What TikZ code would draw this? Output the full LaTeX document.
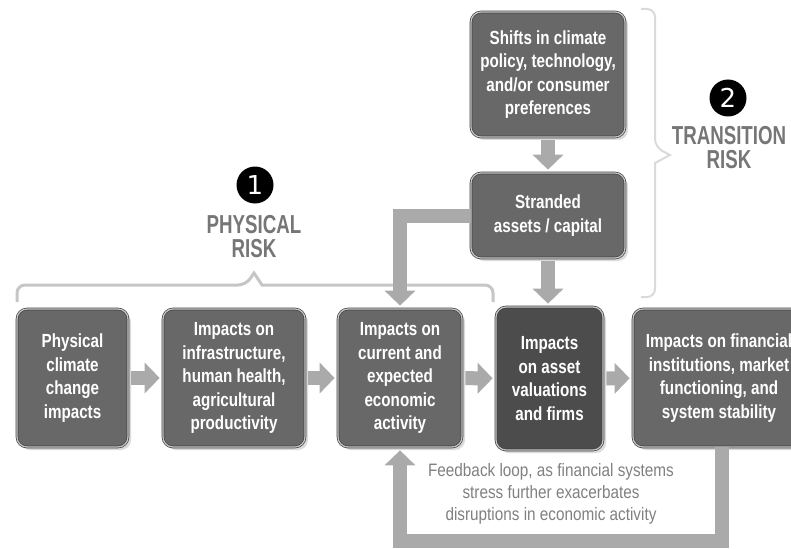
\documentclass[tikz,border=0pt]{standalone}
\usepackage{fontspec}
\setmainfont{Liberation Sans}
\newfontfamily\narrowfont{Liberation Sans}[FakeStretch=0.8]
\newfontfamily\notefont{Liberation Sans}[FakeStretch=0.85]
\newfontfamily\headfont{Liberation Sans}[FakeStretch=0.72]
\newfontfamily\digitfont{DejaVu Sans}
\usetikzlibrary{arrows.meta,shadows}
\definecolor{boxgrey}{RGB}{104,104,104}
\definecolor{darkboxgrey}{RGB}{76,76,76}
\definecolor{arrowgrey}{RGB}{170,170,170}
\definecolor{labelgrey}{RGB}{118,118,118}
\definecolor{notegrey}{RGB}{128,128,128}
\definecolor{bracegrey}{RGB}{198,198,198}
\definecolor{lightbracegrey}{RGB}{218,218,218}
\tikzset{
  riskbox/.style = {
    draw=black!75, double=black!22, double distance=1.2pt, line width=0.7pt,
    fill=boxgrey, rounded corners=10pt, text=white, align=center, inner sep=0pt,
    font=\narrowfont\bfseries\fontsize{19}{23.5}\selectfont,
    drop shadow={shadow xshift=3pt, shadow yshift=-3pt, fill=black!14, opacity=1}
  },
  flowarrow/.style = {
    draw=arrowgrey, line width=14pt, -{Triangle[length=15pt,width=30pt]},
    shorten >=3pt, shorten <=3pt
  },
  risknum/.style = {
    circle, fill=black, text=white, minimum size=37pt, inner sep=0pt,
    font=\digitfont\fontsize{26}{26}\selectfont
  },
  risklabel/.style = {
    text=labelgrey, align=center, font=\headfont\bfseries\fontsize{26}{24}\selectfont
  },
  loopnote/.style = {
    text=notegrey, align=center, font=\notefont\fontsize{18}{22}\selectfont
  }
}

\begin{document}
\begin{tikzpicture}[x=1pt,y=-1pt]
  \clip (0,0) rectangle (791,548);

  % top: transition chain
  \node[riskbox, minimum width=154pt, minimum height=125pt] (shifts) at (548,74.5)
    {Shifts in climate\\policy, technology,\\and/or consumer\\preferences};
  \node[riskbox, minimum width=154pt, minimum height=85pt] (stranded) at (548,215.5)
    {Stranded\\assets / capital};

  % bottom row
  \node[riskbox, minimum width=111pt, minimum height=138pt] (physical) at (72.5,378)
    {Physical\\climate\\change\\impacts};
  \node[riskbox, minimum width=142pt, minimum height=138pt] (infra) at (234,378)
    {Impacts on\\infrastructure,\\human health,\\agricultural\\productivity};
  \node[riskbox, minimum width=124pt, minimum height=138pt] (econ) at (400,378)
    {Impacts on\\current and\\expected\\economic\\activity};
  \node[riskbox, fill=darkboxgrey, minimum width=107pt, minimum height=143pt] (assets) at (549.5,378.5)
    {Impacts\\on asset\\valuations\\and firms};
  \node[riskbox, minimum width=172pt, minimum height=138pt] (finance) at (719,378)
    {Impacts on financial\\institutions, market\\functioning, and\\system stability};

  % braces
  \draw[bracegrey, line width=3pt, rounded corners=8pt]
    (17,302) -- (17,285) -- (246,285) [sharp corners] -- (254,273) -- (262,285)
    [rounded corners=8pt] -- (493,285) -- (493,302);
  \draw[lightbracegrey, line width=2pt, rounded corners=8pt]
    (641,9) -- (655,9) -- (655,147) [sharp corners] -- (670,155) -- (655,163)
    [rounded corners=8pt] -- (655,297) -- (641,297);

  % risk labels
  \node[risknum] (physnum) at (255,185) {1};
  \node[risklabel] (physlabel) at (254,237) {PHYSICAL\\RISK};
  \node[risknum] (transnum) at (728,98) {2};
  \node[risklabel] (translabel) at (729,148) {TRANSITION\\RISK};

  % arrows
  \draw[flowarrow] (physical) -- (infra);
  \draw[flowarrow] (infra) -- (econ);
  \draw[flowarrow] (econ) -- (assets);
  \draw[flowarrow] (assets) -- (finance);
  \draw[flowarrow] (shifts) -- (stranded);
  \draw[flowarrow] (stranded) -- (stranded |- assets.north);
  \draw[flowarrow, shorten <=0pt] (stranded.west) -| (econ.north);

  % feedback loop
  \draw[flowarrow, shorten <=0pt] ([xshift=3pt]finance.south) -- ++(0,94) -| (econ.south);
  \node[loopnote] (loopnote) at (551,494)
    {Feedback loop, as financial systems\\stress further exacerbates\\disruptions in economic activity};
\end{tikzpicture}
\end{document}
